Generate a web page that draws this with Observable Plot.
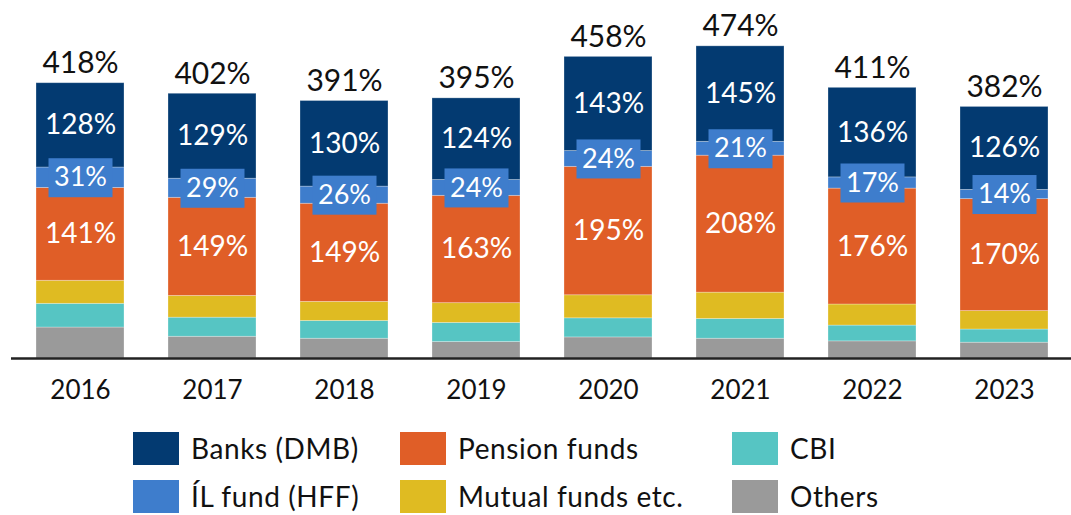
<!DOCTYPE html>
<html><head><meta charset="utf-8">
<script src="https://cdn.jsdelivr.net/npm/d3@7"></script>
<script src="https://cdn.jsdelivr.net/npm/@observablehq/plot@0.6"></script>
<style>
body{margin:0;background:#fff;font-family:Lato, sans-serif;}
#chart svg{display:block}
#legend{display:grid;grid-template-columns:267px 332px 250px;margin-left:133px;row-gap:15px;margin-top:12px}
.item{display:flex;align-items:center;height:33px;line-height:33px;font-size:28px;letter-spacing:0.6px;color:#111;white-space:nowrap}
.sw{width:46px;height:33px;margin-right:12px;flex:none}
</style></head><body><div id="chart"></div><div id="legend"></div>
<script>
const years = ["2016","2017","2018","2019","2020","2021","2022","2023"];
const banks   = [128,129,130,124,143,145,136,126];
const ilFund  = [31,29,26,24,24,21,17,14];
const pension = [141,149,149,163,195,208,176,170];
const mutual  = [35,33,29,30,35,40,32,28];
const cbi     = [36,29,27,29,29,30,24,20];
const others  = [47,33,30,25,32,30,26,24];
const totals  = [418,402,391,395,458,474,411,382];

// stacking order bottom -> top
const seriesKeys   = ["Others","CBI","Mutual funds etc.","Pension funds","ÍL fund (HFF)","Banks (DMB)"];
const seriesValues = [others, cbi, mutual, pension, ilFund, banks];
const seriesColors = ["#9a9a9a","#56c5c3","#dfbb22","#e05e27","#3e7dcc","#033a71"];
// legend layout order (row-major, 3 columns)
const legendOrder = ["Banks (DMB)","Pension funds","CBI","ÍL fund (HFF)","Mutual funds etc.","Others"];

const long = [];
seriesKeys.forEach((s, k) => years.forEach((y, i) => long.push({year: y, series: s, value: seriesValues[k][i]})));
const totalRows = years.map((y, i) => ({year: y, total: totals[i]}));

const stackOpts = {x: "year", y: "value", z: "series", order: seriesKeys};

const chart = Plot.plot({
  width: 1071, height: 420,
  marginTop: 0, marginLeft: 11, marginRight: 0, marginBottom: 62,
  x: {domain: years, range: [12.3, 1072.9], paddingInner: 0.33, paddingOuter: 0.153, axis: null},
  y: {domain: [0, 543.6], axis: null},
  color: {domain: seriesKeys, range: seriesColors},
  style: {fontFamily: "Lato, sans-serif", background: "white"},
  marks: [
    Plot.barY(long, Plot.stackY({...stackOpts, fill: "series", stroke: "white", strokeOpacity: 0.35, strokeWidth: 0.8})),
    Plot.ruleY([0], {stroke: "#222", strokeWidth: 2.5}),
    Plot.axisX({tickSize: 0, tickPadding: 22, fontSize: 26, fill: "#111", label: null}),
    Plot.text(long, Plot.stackY({...stackOpts,
      text: d => (d.series === "Banks (DMB)" || d.series === "Pension funds") ? d.value + "%" : null,
      fill: "white", fontSize: 28})),
    Plot.text(long, Plot.stackY({...stackOpts,
      text: d => d.series === "ÍL fund (HFF)" ? d.value + "%" : null,
      fill: "white", fontSize: 27,
      render(index, scales, values, dimensions, context, next) {
        const g = next(index, scales, values, dimensions, context);
        const ns = "http://www.w3.org/2000/svg";
        const first = g.firstChild;
        for (const i of index) {
          if (values.text && values.text[i] == null) continue;
          const r = document.createElementNS(ns, "rect");
          r.setAttribute("x", values.x[i] - 32);
          r.setAttribute("y", values.y[i] - 19.5);
          r.setAttribute("width", 64);
          r.setAttribute("height", 39);
          r.setAttribute("fill", seriesColors[4]);
          g.insertBefore(r, first);
        }
        return g;
      }})),
    Plot.text(totalRows, {x: "year", y: "total", text: d => d.total + "%", lineAnchor: "bottom", dy: -10, fontSize: 30, fill: "#111"})
  ]
});
document.getElementById("chart").appendChild(chart);

const legend = document.getElementById("legend");
for (const name of legendOrder) {
  const item = document.createElement("div");
  item.className = "item";
  const sw = document.createElement("span");
  sw.className = "sw";
  sw.style.background = seriesColors[seriesKeys.indexOf(name)];
  const t = document.createElement("span");
  t.textContent = name;
  item.appendChild(sw); item.appendChild(t);
  legend.appendChild(item);
}
</script>
</body></html>
